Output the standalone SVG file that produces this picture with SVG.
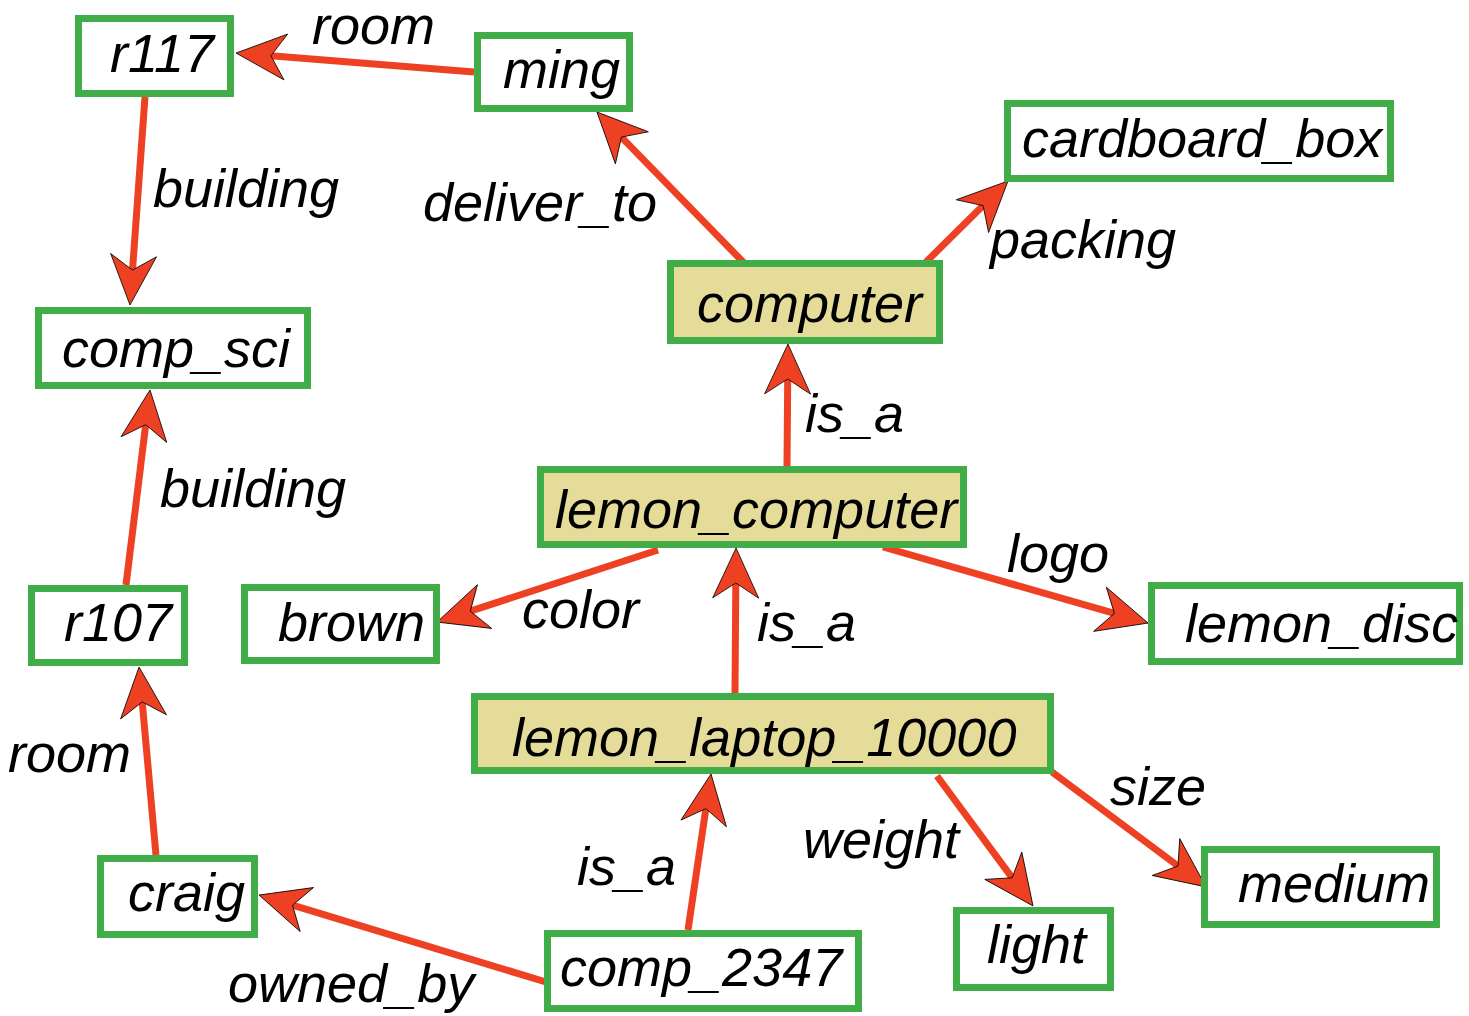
<svg xmlns="http://www.w3.org/2000/svg" width="1469" height="1016" viewBox="0 0 1469 1016">
<style>
.n rect{fill:#fff;stroke:#41ad49;stroke-width:7}
.n.h rect{fill:#e5dc9a}
text{font-family:"Liberation Sans",Arial,sans-serif;font-style:italic;font-size:54px;fill:#000}
.e line{stroke:#ee4123;stroke-width:7;marker-end:url(#ah)}
</style>
<defs>
<marker id="ah" markerUnits="userSpaceOnUse" markerWidth="60" markerHeight="60" refX="20" refY="30" orient="auto" overflow="visible">
<path d="M55,30 L5,7 L20,30 L5,53 Z" fill="#ee4123" stroke="#000" stroke-width="0.8" stroke-linejoin="miter"/>
</marker>
</defs>
<rect width="1469" height="1016" fill="#fff"/>
<g id="edges" class="e">
<line x1="474" y1="72" x2="270.9" y2="55.8"/>
<line x1="145" y1="97" x2="132.5" y2="270.1"/>
<line x1="746" y1="265" x2="621.4" y2="137.1"/>
<line x1="926" y1="262" x2="983.1" y2="205.6"/>
<line x1="787" y1="466" x2="787.7" y2="379"/>
<line x1="126" y1="585" x2="145.7" y2="424.7"/>
<line x1="658" y1="550" x2="470.3" y2="611.2"/>
<line x1="883" y1="547" x2="1114.4" y2="613.4"/>
<line x1="735" y1="693" x2="735.8" y2="583"/>
<line x1="156" y1="855" x2="142.2" y2="701.9"/>
<line x1="546" y1="982" x2="292.5" y2="905.2"/>
<line x1="688" y1="930" x2="705.9" y2="808.6"/>
<line x1="937" y1="776" x2="1012.2" y2="877.8"/>
<line x1="1052" y1="772" x2="1178" y2="866"/>
</g>
<g id="edge-labels">
<text x="312" y="44">room</text>
<text x="153" y="207">building</text>
<text x="423" y="221">deliver_to</text>
<text x="990" y="258">packing</text>
<text x="805" y="432">is_a</text>
<text x="160" y="507">building</text>
<text x="522" y="628">color</text>
<text x="1007" y="572">logo</text>
<text x="757" y="641">is_a</text>
<text x="8" y="772">room</text>
<text x="228" y="1002">owned_by</text>
<text x="577" y="885">is_a</text>
<text x="803" y="858">weight</text>
<text x="1110" y="805">size</text>
</g>
<g id="r117" class="n"><rect x="78.5" y="18.5" width="152" height="75"/><text x="110" y="72">r117</text></g>
<g id="ming" class="n"><rect x="477.5" y="35.5" width="152" height="73"/><text x="503" y="88">ming</text></g>
<g id="cardboard_box" class="n"><rect x="1007.5" y="103.5" width="383" height="75"/><text x="1022" y="157">cardboard_box</text></g>
<g id="computer" class="n h"><rect x="670.5" y="263.5" width="269" height="77"/><text x="697" y="322">computer</text></g>
<g id="comp_sci" class="n"><rect x="38.5" y="310.5" width="269" height="75"/><text x="62" y="367">comp_sci</text></g>
<g id="lemon_computer" class="n h"><rect x="540.5" y="469.5" width="423" height="75"/><text x="555" y="528">lemon_computer</text></g>
<g id="r107" class="n"><rect x="31.5" y="588.5" width="153" height="74"/><text x="64" y="641">r107</text></g>
<g id="brown" class="n"><rect x="244.5" y="587.5" width="192" height="73"/><text x="278" y="641">brown</text></g>
<g id="lemon_disc" class="n"><rect x="1151.5" y="585.5" width="308" height="76"/><text x="1185" y="642">lemon_disc</text></g>
<g id="lemon_laptop_10000" class="n h"><rect x="474.5" y="696.5" width="576" height="74"/><text x="512" y="756">lemon_laptop_10000</text></g>
<g id="craig" class="n"><rect x="100.5" y="858.5" width="154" height="76"/><text x="128" y="911">craig</text></g>
<g id="comp_2347" class="n"><rect x="547.5" y="933.5" width="311" height="75"/><text x="560" y="986">comp_2347</text></g>
<g id="light" class="n"><rect x="956.5" y="910.5" width="154" height="77"/><text x="987" y="963">light</text></g>
<g id="medium" class="n"><rect x="1204.5" y="849.5" width="232" height="75"/><text x="1238" y="902">medium</text></g>
</svg>
